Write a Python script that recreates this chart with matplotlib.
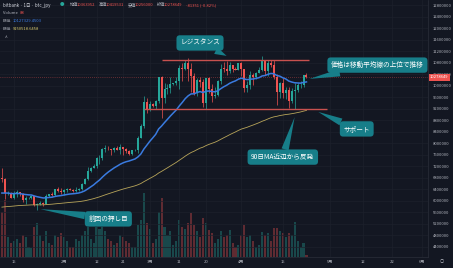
import matplotlib
matplotlib.use('Agg')
import matplotlib.pyplot as plt
import numpy as np
import pandas as pd

plt.rcParams['font.family'] = ['Noto Sans CJK JP', 'DejaVu Sans']

# bitbank btc_jpy daily candles, 2024-01-11 .. 2024-04-23 (values in 万円)
start_date = '2024-01-11'
opens = [680, 676, 625, 625, 609, 621, 629, 623, 603, 607,
         609, 614, 583, 587, 591, 589, 617, 621, 620, 639,
         633, 628, 638, 639, 638, 632, 635, 641, 658, 675,
         702, 714, 721, 747, 748, 780, 780, 779, 776, 782,
         777, 786, 778, 771, 762, 775, 777, 819, 859, 941,
         918, 936, 930, 947, 1028, 956, 987, 990, 1004, 1007,
         1014, 1060, 1056, 1080, 1058, 1034, 973, 1019, 1011, 940,
         1025, 989, 963, 966, 1015, 1059, 1058, 1052, 1071, 1058,
         1053, 1079, 1057, 993, 1001, 1038, 1029, 1045, 1053, 1087,
         1049, 1080, 1071, 1028, 978, 1010, 974, 985, 946, 980,
         985, 1002, 1002, 1036.3952]
highs = [714, 679, 632, 628, 634, 637, 631, 626, 615, 612,
         618, 615, 591, 597, 594, 622, 622, 631, 639, 646,
         645, 641, 644, 644, 640, 647, 645, 660, 679, 718,
         718, 726, 751, 757, 783, 792, 789, 780, 785, 788,
         795, 787, 781, 774, 777, 780, 825, 865, 963, 956,
         947, 938, 948, 1031, 1034, 1009, 1005, 1028, 1010, 1029,
         1070, 1077, 1088, 1094, 1079, 1043, 1025, 1030, 1022, 1027,
         1030, 1006, 995, 1020, 1076, 1082, 1085, 1082, 1073, 1064,
         1080, 1081, 1057, 1014, 1051, 1042, 1047, 1066, 1104, 1088,
         1088, 1089, 1089, 1039, 1013, 1027, 994, 996, 990, 1010,
         1010, 1014, 1038, 1041.9531]
lows = [666, 606, 619, 607, 605, 613, 616, 594, 588, 605,
        606, 581, 568, 583, 580, 587, 611, 614, 617, 630,
        624, 620, 630, 637, 628, 629, 633, 636, 656, 673,
        700, 712, 712, 728, 742, 770, 774, 759, 770, 776,
        762, 760, 765, 759, 760, 771, 765, 819, 853, 906,
        912, 925, 920, 939, 887, 938, 971, 973, 1001, 1003,
        988, 1016, 1054, 1017, 977, 967, 963, 996, 924, 918,
        975, 941, 956, 963, 1005, 1048, 1035, 1042, 1046, 1053,
        1053, 1032, 978, 978, 987, 1001, 1022, 1044, 1049, 1035,
        1033, 1065, 1024, 932, 956, 958, 954, 923, 939, 920,
        976, 993, 996, 1025.6]
closes = [676, 625, 625, 609, 621, 629, 623, 603, 607, 609,
          614, 583, 587, 591, 589, 617, 621, 620, 639, 633,
          628, 638, 639, 638, 632, 635, 641, 658, 675, 702,
          714, 721, 747, 748, 780, 780, 779, 776, 782, 777,
          786, 778, 771, 762, 775, 777, 819, 859, 941, 918,
          936, 930, 947, 1028, 956, 987, 990, 1004, 1007, 1014,
          1060, 1056, 1080, 1058, 1034, 973, 1019, 1011, 940, 1025,
          989, 963, 966, 1015, 1059, 1058, 1052, 1071, 1058, 1053,
          1079, 1057, 993, 1001, 1038, 1029, 1045, 1053, 1087, 1049,
          1080, 1071, 1028, 978, 1010, 974, 985, 946, 980, 985,
          1002, 1002, 1036, 1027.8649]
volumes = [1800, 2280, 800, 560, 640, 720, 560, 880, 800, 400,
           360, 1200, 1360, 880, 640, 1040, 560, 480, 880, 800,
           960, 800, 640, 400, 400, 720, 640, 880, 1040, 1200,
           720, 560, 1200, 1120, 1200, 1040, 720, 640, 480, 560,
           880, 800, 640, 560, 400, 400, 1280, 1480, 2560, 1360,
           1120, 560, 720, 1800, 2360, 1200, 880, 1040, 480, 640,
           1480, 1200, 1120, 1360, 1760, 1280, 1040, 800, 1560, 1360,
           1080, 960, 560, 720, 1040, 800, 880, 1080, 560, 400,
           480, 880, 1280, 800, 880, 640, 400, 480, 1000, 880,
           960, 640, 1160, 1160, 1040, 960, 800, 960, 880, 1400,
           640, 400, 560, 88]

ema_fast_span, ema_fast_seed = 20, 626   # 万円
ema_slow_span, ema_slow_seed = 90, 577

resistance = 1089
resistance_from, resistance_to = '2024-03-05', '2024-04-24'
support = 919
support_from, support_to = '2024-02-28', '2024-04-30'

tick_dates = ['2024-01-15', '2024-02-01', '2024-02-12', '2024-02-21', '2024-03-01',
              '2024-03-11', '2024-03-20', '2024-04-01', '2024-04-15', '2024-05-01',
              '2024-05-12', '2024-05-22', '2024-06-01']
tick_labels = ['15', '2月', '12', '21', '3月', '11', '20', '4月', '15', '5月', '12', '22', '6月']
price_ticks = np.arange(440, 1281, 40)

# callouts: text, (date, price) of tip, (date, price) of box centre
callouts = [
    ('レジスタンス', ('2024-03-27', 1103), ('2024-03-18', 1148)),
    ('価格は移動平均線の上位で推移', ('2024-04-24', 1023), ('2024-05-17', 1071)),
    ('サポート', ('2024-04-27', 908), ('2024-05-10', 849)),
    ('90日MA近辺から反発', ('2024-04-19', 890), ('2024-04-15', 751)),
    ('前回の押し目', ('2024-01-24', 570), ('2024-02-16', 536)),
]

# ---------------------------------------------------------------
bg = '#131722'
up, down = '#26a69a', '#ef5350'
t0 = pd.Timestamp(start_date)
def day(d):
    return (pd.Timestamp(d) - t0).days

o = np.array(opens) * 1e4
h = np.array(highs) * 1e4
l = np.array(lows) * 1e4
c = np.array(closes) * 1e4
x = np.arange(len(c))
col = np.where(c >= o, up, down)

ema_fast = [ema_fast_seed * 1e4]
ema_slow = [ema_slow_seed * 1e4]
for v in c[1:]:
    ema_fast.append(ema_fast[-1] + 2 / (ema_fast_span + 1) * (v - ema_fast[-1]))
    ema_slow.append(ema_slow[-1] + 2 / (ema_slow_span + 1) * (v - ema_slow[-1]))

fig = plt.figure(figsize=(4.53, 2.68), dpi=100)
fig.patch.set_facecolor(bg)
rect = [0, 11 / 268, 428 / 453, 257 / 268]

vax = fig.add_axes(rect)
vax.set_facecolor(bg)
vax.bar(x, volumes, width=0.7, color=col, alpha=0.35, linewidth=0)
vax.set_ylim(0, 10280)
vax.axis('off')

ax = fig.add_axes(rect, sharex=vax)
ax.patch.set_alpha(0)
for p in price_ticks:
    ax.axhline(p * 1e4, color='#1c202b', lw=0.5, zorder=0)
for d in tick_dates:
    ax.axvline(day(d), color='#1c202b', lw=0.5, zorder=0)

ax.vlines(x, l, h, color=col, lw=0.5, zorder=2)
body = np.maximum(np.abs(c - o), 12000)
ax.bar(x, body, bottom=np.minimum(o, c), width=0.68, color=col, linewidth=0, zorder=3)

ax.plot(x, ema_slow, color='#b8a55a', lw=0.6, zorder=4)
ax.plot(x, ema_fast, color='#3a7be0', lw=1.1, zorder=4)

ax.hlines(resistance * 1e4, day(resistance_from), day(resistance_to), color='#c8514f', lw=1.0, zorder=5)
ax.hlines(support * 1e4, day(support_from), day(support_to), color='#c8514f', lw=1.0, zorder=5)
ax.axhline(c[-1], color=down, lw=0.5, ls=(0, (1, 2)), alpha=0.7, zorder=1)

box = '#177e89'
for text, tip, ctr in callouts:
    ax.annotate(text, xy=(day(tip[0]), tip[1] * 1e4), xytext=(day(ctr[0]), ctr[1] * 1e4),
                ha='center', va='center', fontsize=4.8, color='white', zorder=6,
                annotation_clip=False,
                bbox=dict(boxstyle='round,pad=0.55,rounding_size=0.5', fc=box, ec='none'),
                arrowprops=dict(arrowstyle='wedge,tail_width=1.1,shrink_factor=0.5',
                                fc=box, ec='none', shrinkA=0, shrinkB=0))

ax.set_xlim(-0.64, 144.1)
ax.set_ylim(4035000, 12974000)
ax.yaxis.tick_right()
ax.set_yticks(price_ticks * 1e4)
ax.set_yticklabels([f'{p * 10000:.0f}' for p in price_ticks])
ax.set_xticks([day(d) for d in tick_dates])
ax.set_xticklabels(tick_labels)
ax.tick_params(axis='y', length=0, pad=3.5, labelsize=3, labelcolor='#b2b5be')
ax.tick_params(axis='x', length=0, pad=2.2, labelsize=3, labelcolor='#b2b5be')
for s in ax.spines.values():
    s.set_visible(False)
ax.spines['right'].set_visible(True)
ax.spines['right'].set_color('#2a2e39')
ax.spines['right'].set_linewidth(0.5)
ax.spines['bottom'].set_visible(True)
ax.spines['bottom'].set_color('#2a2e39')
ax.spines['bottom'].set_linewidth(0.5)

ax.annotate(f'{c[-1]:.0f}', xy=(1.0, c[-1]), xycoords=('axes fraction', 'data'),
            xytext=(1.5, 0), textcoords='offset points', ha='left', va='center',
            fontsize=3, color='white', annotation_clip=False,
            bbox=dict(boxstyle='square,pad=0.35', fc=down, ec='none'))

# header legend
def fx(px):
    return px / 453
def fy(py):
    return 1 - py / 268
fig.text(fx(3), fy(5), 'bitbank · 1日 · btc_jpy', fontsize=3.2, color='#d1d4dc', va='center')
fig.text(fx(60), fy(5), '●', fontsize=3.2, color='#26a69a', va='center')
hx = 70
for lab, val in [('始値', o[-1]), ('高値', h[-1]), ('安値', l[-1]), ('終値', c[-1])]:
    fig.text(fx(hx), fy(5), lab, fontsize=3, color='#b2b5be', va='center')
    fig.text(fx(hx + 7), fy(5), f'{val:.0f}', fontsize=3, color=down, va='center')
    hx += 29
fig.text(fx(hx), fy(5), f'{c[-1] - c[-2] * 1:.0f} ({(c[-1] / o[-1] - 1) * 100:.2f}%)',
         fontsize=3, color=down, va='center')
fig.text(fx(3), fy(13), 'Volume', fontsize=3, color='#b2b5be', va='center')
fig.text(fx(20), fy(13), f'{volumes[-1]}', fontsize=3, color=down, va='center')
fig.text(fx(3), fy(21), 'EMA', fontsize=3, color='#b2b5be', va='center')
fig.text(fx(13), fy(21), '10127329.4503', fontsize=3, color='#3a7be0', va='center')
fig.text(fx(3), fy(29), 'EMA', fontsize=3, color='#b2b5be', va='center')
fig.text(fx(13), fy(29), '9150518.6458', fontsize=3, color='#d6c86a', va='center')
fig.text(fx(5), fy(38), '^', fontsize=3.5, color='#b2b5be', va='center')
fig.text(fx(442), fy(262), '○', fontsize=3, color='#b2b5be', va='center', ha='center')

fig.savefig('out.png', dpi=100, facecolor=bg)
